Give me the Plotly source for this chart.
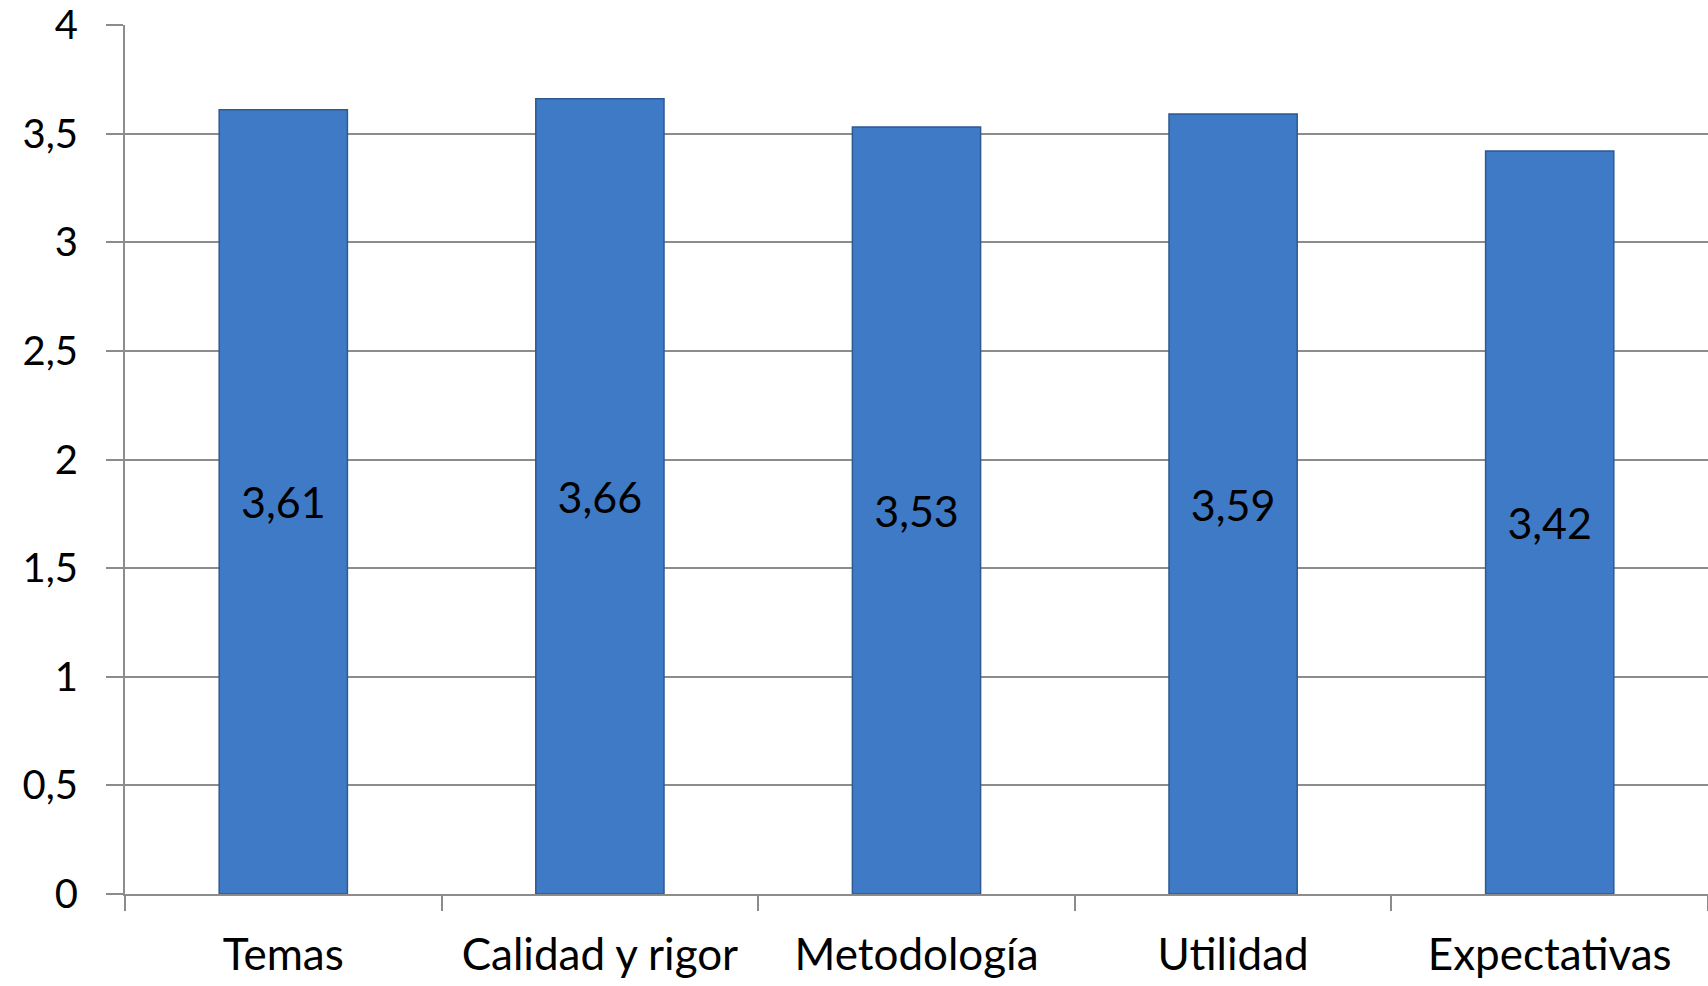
import plotly.graph_objects as go

categories = ["Temas", "Calidad y rigor", "Metodología", "Utilidad", "Expectativas"]
values = [3.61, 3.66, 3.53, 3.59, 3.42]
value_labels = ["3,61", "3,66", "3,53", "3,59", "3,42"]
y_ticks = [0, 0.5, 1, 1.5, 2, 2.5, 3, 3.5, 4]
y_tick_labels = ["0", "0,5", "1", "1,5", "2", "2,5", "3", "3,5", "4"]

FONT = "Lato"

fig = go.Figure()
fig.add_trace(go.Bar(
    x=categories,
    y=values,
    text=value_labels,
    textposition="inside",
    insidetextanchor="middle",
    textangle=0,
    textfont=dict(family=FONT, size=43, color="#000000"),
    marker=dict(color="#3e7ac5", line=dict(color="#2d5a92", width=1.5)),
    width=0.405,
    hoverinfo="skip",
))

fig.update_layout(
    width=1708,
    height=986,
    margin=dict(l=125, r=0, t=25, b=92),
    paper_bgcolor="white",
    plot_bgcolor="white",
    showlegend=False,
    separators=",.",
    font=dict(family=FONT, color="#000000"),
)

fig.update_yaxes(
    range=[0, 4],
    tickvals=y_ticks,
    ticktext=y_tick_labels,
    automargin=False,
    showgrid=True,
    gridcolor="#8c8c8c",
    gridwidth=2,
    zeroline=False,
    showline=True,
    linecolor="#8c8c8c",
    linewidth=2,
    ticks="outside",
    ticklen=17,
    tickwidth=2,
    tickcolor="#8c8c8c",
    ticklabelstandoff=20,
    ticklabeloverflow="allow",
    tickfont=dict(family=FONT, size=40, color="#000000"),
)

fig.update_xaxes(
    automargin=False,
    showgrid=False,
    showline=True,
    linecolor="#8c8c8c",
    linewidth=2,
    ticks="outside",
    tickson="boundaries",
    ticklen=15,
    tickwidth=2,
    tickcolor="#8c8c8c",
    ticklabelstandoff=21,
    tickfont=dict(family=FONT, size=44, color="#000000"),
)

fig.write_html(
    "out.html",
    config={"displayModeBar": False},
    post_script="document.body.style.margin='0';document.body.style.overflow='hidden';",
)
